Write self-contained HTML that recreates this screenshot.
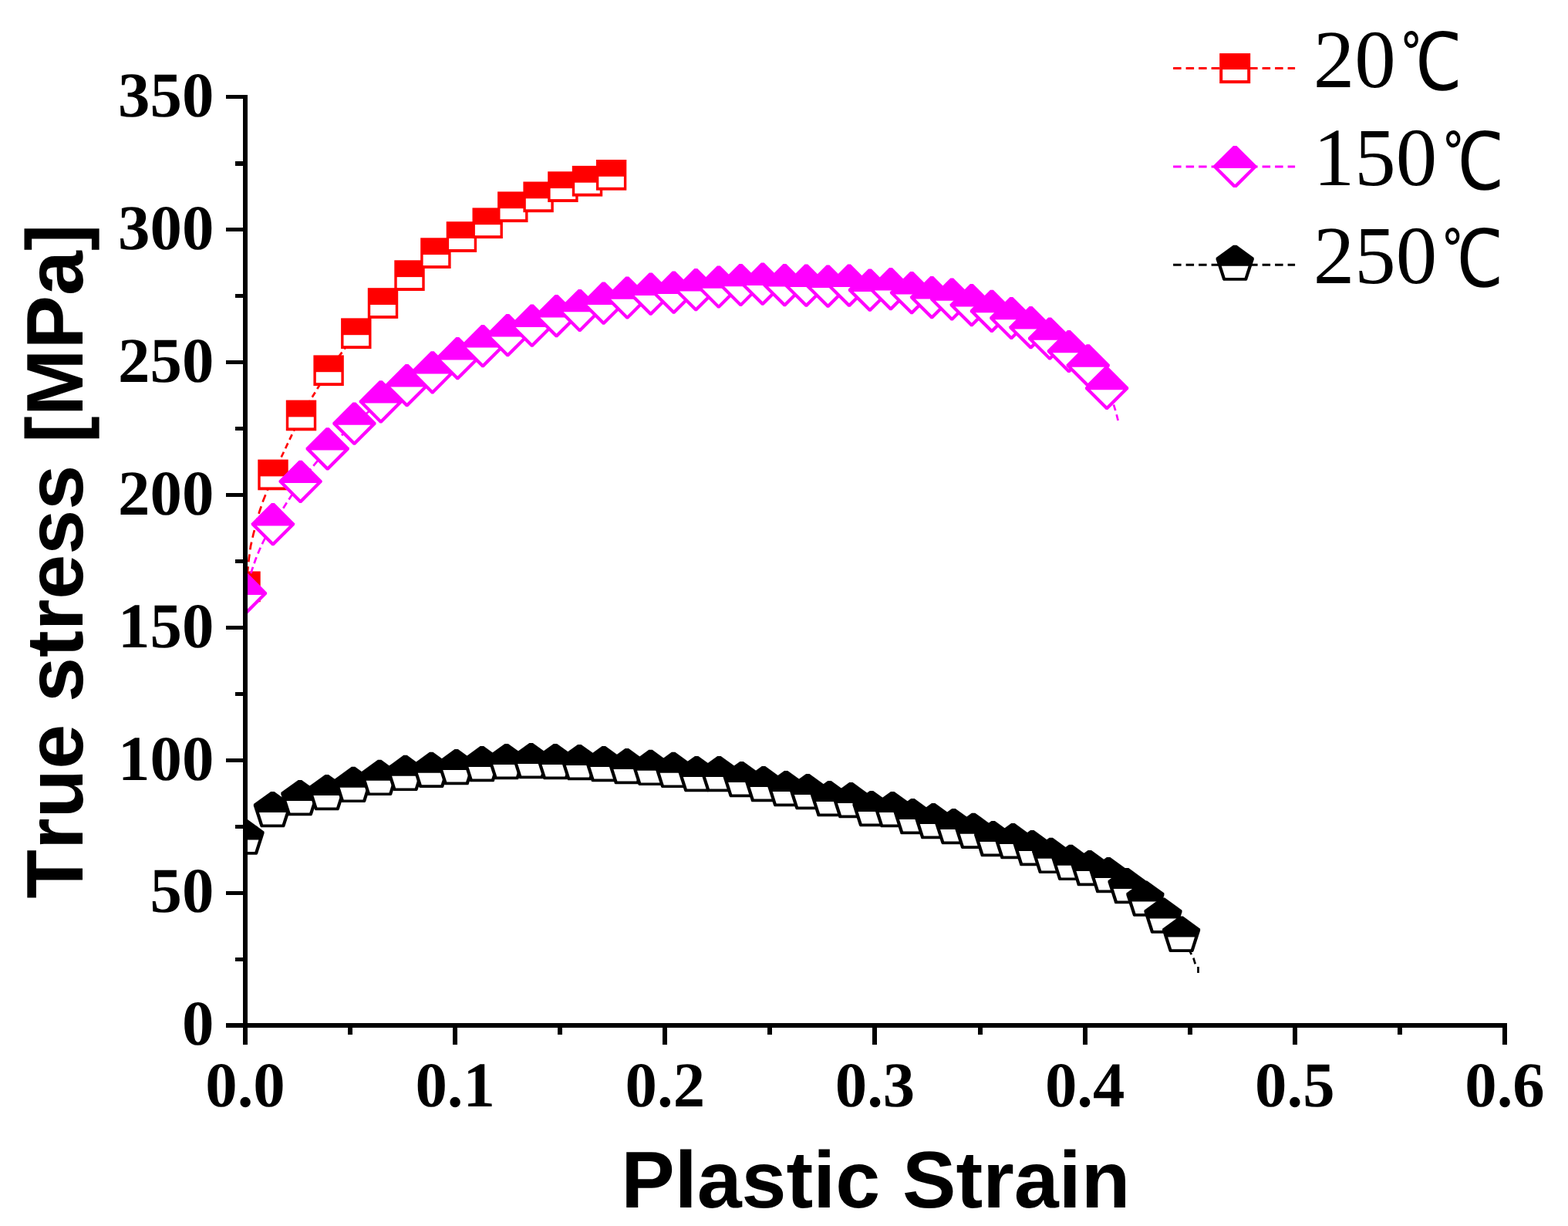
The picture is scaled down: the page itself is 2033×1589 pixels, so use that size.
<!DOCTYPE html>
<html lang="en"><head><meta charset="utf-8"><title>True stress [MPa] vs Plastic Strain</title>
<style>html,body{margin:0;padding:0;background:#fff}svg{display:block}text{font-kerning:none;text-rendering:geometricPrecision}.tk{font-family:"Liberation Serif",serif;font-weight:bold;font-size:82.8px;fill:#000}.ti{font-family:"Liberation Sans",sans-serif;font-weight:bold;font-size:104.2px;fill:#000}.lg{font-family:"Liberation Serif","WenQuanYi Zen Hei",serif;font-size:107px;fill:#000}.dc{font-family:"Liberation Serif","WenQuanYi Zen Hei","Noto Sans CJK SC",serif;font-size:102.7px}</style></head><body>
<svg width="2033" height="1589" viewBox="0 0 2033 1589">
<rect width="2033" height="1589" fill="#fff"/>
<defs><clipPath id="plot"><rect x="318" y="0" width="1715" height="1329"/></clipPath></defs>
<g clip-path="url(#plot)">
<g id="s20">
<path d="M318 760 L321.2 738.8 L322.8 723.7 L325 707.8 L328.6 691.9 L336.1 664 L341.1 649.3 L345.8 637.6 L354 615.1" fill="none" stroke="#ff0000" stroke-width="2.7" stroke-dasharray="10 6"/>
<path d="M354 615.1 L390.5 538.1 L426.1 479.9 L461.8 431.9 L496.5 392.7 L531 356.8 L564.9 327.8 L598.4 306.7 L632.2 288.9 L664.8 267.9 L698.1 255 L729.9 241.8 L761.5 234.4 L792.6 226.5" fill="none" stroke="#ff0000" stroke-width="2.7" stroke-dasharray="7.5 5"/>
<rect x="298.3" y="740.5" width="39.4" height="39.7" fill="#ff0000"/><rect x="301.7" y="762.3" width="32.6" height="14" fill="#fff"/>
<rect x="334.3" y="595.6" width="39.4" height="39.7" fill="#ff0000"/><rect x="337.7" y="617.4" width="32.6" height="14" fill="#fff"/>
<rect x="370.8" y="518.6" width="39.4" height="39.7" fill="#ff0000"/><rect x="374.2" y="540.4" width="32.6" height="14" fill="#fff"/>
<rect x="406.4" y="460.4" width="39.4" height="39.7" fill="#ff0000"/><rect x="409.8" y="482.2" width="32.6" height="14" fill="#fff"/>
<rect x="442.1" y="412.4" width="39.4" height="39.7" fill="#ff0000"/><rect x="445.5" y="434.2" width="32.6" height="14" fill="#fff"/>
<rect x="476.8" y="373.2" width="39.4" height="39.7" fill="#ff0000"/><rect x="480.2" y="395" width="32.6" height="14" fill="#fff"/>
<rect x="511.3" y="337.3" width="39.4" height="39.7" fill="#ff0000"/><rect x="514.7" y="359.1" width="32.6" height="14" fill="#fff"/>
<rect x="545.2" y="308.3" width="39.4" height="39.7" fill="#ff0000"/><rect x="548.6" y="330.1" width="32.6" height="14" fill="#fff"/>
<rect x="578.7" y="287.2" width="39.4" height="39.7" fill="#ff0000"/><rect x="582.1" y="309" width="32.6" height="14" fill="#fff"/>
<rect x="612.5" y="269.4" width="39.4" height="39.7" fill="#ff0000"/><rect x="615.9" y="291.2" width="32.6" height="14" fill="#fff"/>
<rect x="645.1" y="248.4" width="39.4" height="39.7" fill="#ff0000"/><rect x="648.5" y="270.2" width="32.6" height="14" fill="#fff"/>
<rect x="678.4" y="235.5" width="39.4" height="39.7" fill="#ff0000"/><rect x="681.8" y="257.3" width="32.6" height="14" fill="#fff"/>
<rect x="710.2" y="222.3" width="39.4" height="39.7" fill="#ff0000"/><rect x="713.6" y="244.1" width="32.6" height="14" fill="#fff"/>
<rect x="741.8" y="214.9" width="39.4" height="39.7" fill="#ff0000"/><rect x="745.2" y="236.7" width="32.6" height="14" fill="#fff"/>
<rect x="772.9" y="207" width="39.4" height="39.7" fill="#ff0000"/><rect x="776.3" y="228.8" width="32.6" height="14" fill="#fff"/>
</g>
<g id="s150">
<path d="M318 769 L326.9 738 L331.4 725 L336.6 712.3 L341.8 701 L353.9 679.4 L389.6 624 L424.7 581.6 L459.4 548.8 L493.8 520.5 L527.6 499.3 L560.7 482.5 L593.3 464.4 L626 448.3 L658.3 434.3 L689.8 421.8 L721.5 409.3 L751.7 402.2 L782.6 392.8 L813.3 385.7 L843.7 380.9 L873.6 378.8 L902.3 375.3 L931.8 371.7 L960.4 369.2 L988.8 367.8 L1017.4 369.3 L1045.4 369.8 L1073.5 370.8 L1101 369.8 L1127.9 375.8 L1154.9 374.3 L1182.1 379.4 L1208.2 385.3 L1234.2 387.7 L1259.8 395.3 L1285.9 403.1 L1311.3 412.2 L1336.5 424.3 L1361.1 438.7 L1385.9 455.2 L1410.7 473.6 L1435.1 503.1" fill="none" stroke="#ff00ff" stroke-width="2.7" stroke-dasharray="8.5 5"/>
<path d="M1449.6 545 L1447 534.5 L1444.2 525.4 L1435.1 503.1" fill="none" stroke="#ff00ff" stroke-width="2.7" stroke-dasharray="8 5.3"/>
<polygon points="316.1,741.7 319.9,741.7 346.1,767.9 346.1,770.1 319.3,796.9 316.7,796.9 289.9,770.1 289.9,767.9" fill="#ff00ff"/><polygon points="296.9,771 339.1,771 318,792.2" fill="#fff"/>
<polygon points="352,652.1 355.8,652.1 382,678.3 382,680.5 355.2,707.3 352.6,707.3 325.8,680.5 325.8,678.3" fill="#ff00ff"/><polygon points="332.8,681.4 375,681.4 353.9,702.6" fill="#fff"/>
<polygon points="387.7,596.7 391.5,596.7 417.7,622.9 417.7,625.1 390.9,651.9 388.3,651.9 361.5,625.1 361.5,622.9" fill="#ff00ff"/><polygon points="368.5,626 410.8,626 389.6,647.2" fill="#fff"/>
<polygon points="422.8,554.3 426.6,554.3 452.8,580.5 452.8,582.7 426,609.5 423.4,609.5 396.6,582.7 396.6,580.5" fill="#ff00ff"/><polygon points="403.6,583.6 445.8,583.6 424.7,604.8" fill="#fff"/>
<polygon points="457.5,521.5 461.3,521.5 487.5,547.7 487.5,549.9 460.7,576.7 458.1,576.7 431.3,549.9 431.3,547.7" fill="#ff00ff"/><polygon points="438.2,550.8 480.5,550.8 459.4,572" fill="#fff"/>
<polygon points="491.9,493.2 495.7,493.2 521.9,519.4 521.9,521.6 495.1,548.4 492.5,548.4 465.7,521.6 465.7,519.4" fill="#ff00ff"/><polygon points="472.7,522.5 515,522.5 493.8,543.7" fill="#fff"/>
<polygon points="525.7,472 529.5,472 555.7,498.2 555.7,500.4 528.9,527.2 526.3,527.2 499.5,500.4 499.5,498.2" fill="#ff00ff"/><polygon points="506.5,501.4 548.8,501.4 527.6,522.5" fill="#fff"/>
<polygon points="558.8,455.2 562.6,455.2 588.8,481.4 588.8,483.6 562,510.4 559.4,510.4 532.6,483.6 532.6,481.4" fill="#ff00ff"/><polygon points="539.6,484.6 581.9,484.6 560.7,505.7" fill="#fff"/>
<polygon points="591.4,437.1 595.2,437.1 621.4,463.3 621.4,465.5 594.6,492.3 592,492.3 565.2,465.5 565.2,463.3" fill="#ff00ff"/><polygon points="572.1,466.4 614.4,466.4 593.3,487.6" fill="#fff"/>
<polygon points="624.1,421 627.9,421 654.1,447.2 654.1,449.4 627.3,476.2 624.7,476.2 597.9,449.4 597.9,447.2" fill="#ff00ff"/><polygon points="604.9,450.4 647.1,450.4 626,471.5" fill="#fff"/>
<polygon points="656.4,407 660.2,407 686.4,433.2 686.4,435.4 659.6,462.2 657,462.2 630.2,435.4 630.2,433.2" fill="#ff00ff"/><polygon points="637.1,436.4 679.4,436.4 658.3,457.5" fill="#fff"/>
<polygon points="687.9,394.5 691.7,394.5 717.9,420.7 717.9,422.9 691.1,449.7 688.5,449.7 661.7,422.9 661.7,420.7" fill="#ff00ff"/><polygon points="668.6,423.9 710.9,423.9 689.8,445" fill="#fff"/>
<polygon points="719.6,382 723.4,382 749.6,408.2 749.6,410.4 722.8,437.2 720.2,437.2 693.4,410.4 693.4,408.2" fill="#ff00ff"/><polygon points="700.4,411.4 742.6,411.4 721.5,432.5" fill="#fff"/>
<polygon points="749.8,374.9 753.6,374.9 779.8,401.1 779.8,403.3 753,430.1 750.4,430.1 723.6,403.3 723.6,401.1" fill="#ff00ff"/><polygon points="730.6,404.2 772.9,404.2 751.7,425.4" fill="#fff"/>
<polygon points="780.7,365.5 784.5,365.5 810.7,391.7 810.7,393.9 783.9,420.7 781.3,420.7 754.5,393.9 754.5,391.7" fill="#ff00ff"/><polygon points="761.5,394.9 803.8,394.9 782.6,416" fill="#fff"/>
<polygon points="811.4,358.4 815.2,358.4 841.4,384.6 841.4,386.8 814.6,413.6 812,413.6 785.2,386.8 785.2,384.6" fill="#ff00ff"/><polygon points="792.1,387.8 834.4,387.8 813.3,408.9" fill="#fff"/>
<polygon points="841.8,353.6 845.6,353.6 871.8,379.8 871.8,382 845,408.8 842.4,408.8 815.6,382 815.6,379.8" fill="#ff00ff"/><polygon points="822.6,382.9 864.9,382.9 843.7,404.1" fill="#fff"/>
<polygon points="871.7,351.5 875.5,351.5 901.7,377.7 901.7,379.9 874.9,406.7 872.3,406.7 845.5,379.9 845.5,377.7" fill="#ff00ff"/><polygon points="852.5,380.9 894.8,380.9 873.6,402" fill="#fff"/>
<polygon points="900.4,348 904.2,348 930.4,374.2 930.4,376.4 903.6,403.2 901,403.2 874.2,376.4 874.2,374.2" fill="#ff00ff"/><polygon points="881.1,377.4 923.4,377.4 902.3,398.5" fill="#fff"/>
<polygon points="929.9,344.4 933.7,344.4 959.9,370.6 959.9,372.8 933.1,399.6 930.5,399.6 903.7,372.8 903.7,370.6" fill="#ff00ff"/><polygon points="910.6,373.8 952.9,373.8 931.8,394.9" fill="#fff"/>
<polygon points="958.5,341.9 962.3,341.9 988.5,368.1 988.5,370.3 961.7,397.1 959.1,397.1 932.3,370.3 932.3,368.1" fill="#ff00ff"/><polygon points="939.2,371.2 981.5,371.2 960.4,392.4" fill="#fff"/>
<polygon points="986.9,340.5 990.7,340.5 1016.9,366.7 1016.9,368.9 990.1,395.7 987.5,395.7 960.7,368.9 960.7,366.7" fill="#ff00ff"/><polygon points="967.6,369.9 1009.9,369.9 988.8,391" fill="#fff"/>
<polygon points="1015.5,342 1019.3,342 1045.5,368.2 1045.5,370.4 1018.7,397.2 1016.1,397.2 989.3,370.4 989.3,368.2" fill="#ff00ff"/><polygon points="996.2,371.4 1038.5,371.4 1017.4,392.5" fill="#fff"/>
<polygon points="1043.5,342.5 1047.3,342.5 1073.5,368.7 1073.5,370.9 1046.7,397.7 1044.1,397.7 1017.3,370.9 1017.3,368.7" fill="#ff00ff"/><polygon points="1024.2,371.9 1066.6,371.9 1045.4,393" fill="#fff"/>
<polygon points="1071.6,343.5 1075.4,343.5 1101.6,369.7 1101.6,371.9 1074.8,398.7 1072.2,398.7 1045.4,371.9 1045.4,369.7" fill="#ff00ff"/><polygon points="1052.3,372.9 1094.7,372.9 1073.5,394" fill="#fff"/>
<polygon points="1099.1,342.5 1102.9,342.5 1129.1,368.7 1129.1,370.9 1102.3,397.7 1099.7,397.7 1072.9,370.9 1072.9,368.7" fill="#ff00ff"/><polygon points="1079.8,371.9 1122.2,371.9 1101,393" fill="#fff"/>
<polygon points="1126,348.5 1129.8,348.5 1156,374.7 1156,376.9 1129.2,403.7 1126.6,403.7 1099.8,376.9 1099.8,374.7" fill="#ff00ff"/><polygon points="1106.8,377.9 1149.1,377.9 1127.9,399" fill="#fff"/>
<polygon points="1153,347 1156.8,347 1183,373.2 1183,375.4 1156.2,402.2 1153.6,402.2 1126.8,375.4 1126.8,373.2" fill="#ff00ff"/><polygon points="1133.8,376.4 1176.1,376.4 1154.9,397.5" fill="#fff"/>
<polygon points="1180.2,352.1 1184,352.1 1210.2,378.3 1210.2,380.5 1183.4,407.3 1180.8,407.3 1154,380.5 1154,378.3" fill="#ff00ff"/><polygon points="1160.9,381.4 1203.2,381.4 1182.1,402.6" fill="#fff"/>
<polygon points="1206.3,358 1210.1,358 1236.3,384.2 1236.3,386.4 1209.5,413.2 1206.9,413.2 1180.1,386.4 1180.1,384.2" fill="#ff00ff"/><polygon points="1187,387.4 1229.4,387.4 1208.2,408.5" fill="#fff"/>
<polygon points="1232.3,360.4 1236.1,360.4 1262.3,386.6 1262.3,388.8 1235.5,415.6 1232.9,415.6 1206.1,388.8 1206.1,386.6" fill="#ff00ff"/><polygon points="1213,389.8 1255.4,389.8 1234.2,410.9" fill="#fff"/>
<polygon points="1257.9,368 1261.7,368 1287.9,394.2 1287.9,396.4 1261.1,423.2 1258.5,423.2 1231.7,396.4 1231.7,394.2" fill="#ff00ff"/><polygon points="1238.6,397.4 1281,397.4 1259.8,418.5" fill="#fff"/>
<polygon points="1284,375.8 1287.8,375.8 1314,402 1314,404.2 1287.2,431 1284.6,431 1257.8,404.2 1257.8,402" fill="#ff00ff"/><polygon points="1264.8,405.2 1307.1,405.2 1285.9,426.3" fill="#fff"/>
<polygon points="1309.4,384.9 1313.2,384.9 1339.4,411.1 1339.4,413.3 1312.6,440.1 1310,440.1 1283.2,413.3 1283.2,411.1" fill="#ff00ff"/><polygon points="1290.1,414.2 1332.5,414.2 1311.3,435.4" fill="#fff"/>
<polygon points="1334.6,397 1338.4,397 1364.6,423.2 1364.6,425.4 1337.8,452.2 1335.2,452.2 1308.4,425.4 1308.4,423.2" fill="#ff00ff"/><polygon points="1315.3,426.4 1357.7,426.4 1336.5,447.5" fill="#fff"/>
<polygon points="1359.2,411.4 1363,411.4 1389.2,437.6 1389.2,439.8 1362.4,466.6 1359.8,466.6 1333,439.8 1333,437.6" fill="#ff00ff"/><polygon points="1339.9,440.8 1382.2,440.8 1361.1,461.9" fill="#fff"/>
<polygon points="1384,427.9 1387.8,427.9 1414,454.1 1414,456.3 1387.2,483.1 1384.6,483.1 1357.8,456.3 1357.8,454.1" fill="#ff00ff"/><polygon points="1364.8,457.2 1407.1,457.2 1385.9,478.4" fill="#fff"/>
<polygon points="1408.8,446.3 1412.6,446.3 1438.8,472.5 1438.8,474.7 1412,501.5 1409.4,501.5 1382.6,474.7 1382.6,472.5" fill="#ff00ff"/><polygon points="1389.5,475.7 1431.9,475.7 1410.7,496.8" fill="#fff"/>
<polygon points="1433.2,475.8 1437,475.8 1463.2,502 1463.2,504.2 1436.4,531 1433.8,531 1407,504.2 1407,502" fill="#ff00ff"/><polygon points="1413.9,505.2 1456.2,505.2 1435.1,526.3" fill="#fff"/>
</g>
<g id="s250">
<path d="M318 1087 L353.4 1051.4 L388.9 1036.4 L423.8 1029.4 L458.1 1019.3 L492.1 1010.3 L525.5 1004.3 L559.2 1000.2 L591.7 996.5 L624.9 992.5 L656.7 989.4 L688.6 988.4 L720 989.4 L751.3 990.4 L782.8 992.5 L812.8 995.5 L843.5 997.3 L873.1 1000.3 L903.2 1005.4 L932.4 1005.4 L961.6 1012.4 L990 1018.5 L1019.1 1024.4 L1047.3 1028.4 L1075.5 1037.5 L1103.4 1039.5 L1130 1050.4 L1157.2 1051.4 L1183.4 1060.5 L1210.2 1066.5 L1236.5 1073.4 L1262.1 1079.2 L1287.7 1089.5 L1313.4 1092.5 L1338.3 1101.5 L1362.7 1111.3 L1388.2 1120.3 L1412.8 1127.5 L1437.2 1136.5 L1461.1 1150.5 L1484.9 1166.9 L1508 1189 L1531.6 1213.1" fill="none" stroke="#000000" stroke-width="2.7" stroke-dasharray="8.5 5"/>
<path d="M1553.5 1261 L1553.5 1253 L1549.8 1249.6 L1547.6 1242.4 L1543.2 1233.9 L1531.6 1213.1" fill="none" stroke="#000000" stroke-width="2.7" stroke-dasharray="8 5.3"/>
<polygon points="315.8,1061.5 320.2,1061.5 342.5,1077.7 342.6,1080 334,1106.7 333,1107.8 303,1107.8 302,1106.7 293.4,1080 293.5,1077.7" fill="#000000"/><polygon points="300.6,1088.5 335.4,1088.5 330.4,1104.1 305.6,1104.1" fill="#fff"/>
<polygon points="351.2,1025.9 355.6,1025.9 377.9,1042.1 378,1044.4 369.4,1071.1 368.4,1072.2 338.4,1072.2 337.4,1071.1 328.8,1044.4 328.9,1042.1" fill="#000000"/><polygon points="336,1052.9 370.8,1052.9 365.8,1068.5 341,1068.5" fill="#fff"/>
<polygon points="386.7,1010.9 391.1,1010.9 413.4,1027.1 413.5,1029.4 404.9,1056.1 403.9,1057.2 373.9,1057.2 372.9,1056.1 364.3,1029.4 364.4,1027.1" fill="#000000"/><polygon points="371.5,1037.9 406.3,1037.9 401.3,1053.5 376.5,1053.5" fill="#fff"/>
<polygon points="421.6,1003.9 426,1003.9 448.3,1020.1 448.4,1022.4 439.8,1049.1 438.8,1050.2 408.8,1050.2 407.8,1049.1 399.2,1022.4 399.3,1020.1" fill="#000000"/><polygon points="406.4,1030.9 441.2,1030.9 436.2,1046.5 411.4,1046.5" fill="#fff"/>
<polygon points="455.9,993.8 460.3,993.8 482.6,1010 482.7,1012.3 474.1,1039 473.1,1040.1 443.1,1040.1 442.1,1039 433.5,1012.3 433.6,1010" fill="#000000"/><polygon points="440.7,1020.8 475.5,1020.8 470.5,1036.4 445.7,1036.4" fill="#fff"/>
<polygon points="489.9,984.8 494.3,984.8 516.6,1001 516.7,1003.3 508.1,1030 507.1,1031.1 477.1,1031.1 476.1,1030 467.5,1003.3 467.6,1001" fill="#000000"/><polygon points="474.7,1011.8 509.5,1011.8 504.5,1027.4 479.7,1027.4" fill="#fff"/>
<polygon points="523.3,978.8 527.7,978.8 550,995 550.1,997.3 541.5,1024 540.5,1025.1 510.5,1025.1 509.5,1024 500.9,997.3 501,995" fill="#000000"/><polygon points="508.1,1005.8 542.9,1005.8 537.9,1021.4 513.1,1021.4" fill="#fff"/>
<polygon points="557,974.7 561.4,974.7 583.7,990.9 583.8,993.2 575.2,1019.9 574.2,1021 544.2,1021 543.2,1019.9 534.6,993.2 534.7,990.9" fill="#000000"/><polygon points="541.8,1001.7 576.6,1001.7 571.6,1017.3 546.8,1017.3" fill="#fff"/>
<polygon points="589.5,971 593.9,971 616.2,987.2 616.3,989.5 607.7,1016.2 606.7,1017.3 576.7,1017.3 575.7,1016.2 567.1,989.5 567.2,987.2" fill="#000000"/><polygon points="574.3,998 609.1,998 604.1,1013.6 579.3,1013.6" fill="#fff"/>
<polygon points="622.7,967 627.1,967 649.4,983.2 649.5,985.5 640.9,1012.2 639.9,1013.3 609.9,1013.3 608.9,1012.2 600.3,985.5 600.4,983.2" fill="#000000"/><polygon points="607.5,994 642.3,994 637.3,1009.6 612.5,1009.6" fill="#fff"/>
<polygon points="654.5,963.9 658.9,963.9 681.2,980.1 681.3,982.4 672.7,1009.1 671.7,1010.2 641.7,1010.2 640.7,1009.1 632.1,982.4 632.2,980.1" fill="#000000"/><polygon points="639.3,990.9 674.1,990.9 669.1,1006.5 644.3,1006.5" fill="#fff"/>
<polygon points="686.4,962.9 690.8,962.9 713.1,979.1 713.2,981.4 704.6,1008.1 703.6,1009.2 673.6,1009.2 672.6,1008.1 664,981.4 664.1,979.1" fill="#000000"/><polygon points="671.2,989.9 706,989.9 701,1005.5 676.2,1005.5" fill="#fff"/>
<polygon points="717.8,963.9 722.2,963.9 744.5,980.1 744.6,982.4 736,1009.1 735,1010.2 705,1010.2 704,1009.1 695.4,982.4 695.5,980.1" fill="#000000"/><polygon points="702.6,990.9 737.4,990.9 732.4,1006.5 707.6,1006.5" fill="#fff"/>
<polygon points="749.1,964.9 753.5,964.9 775.8,981.1 775.9,983.4 767.3,1010.1 766.3,1011.2 736.3,1011.2 735.3,1010.1 726.7,983.4 726.8,981.1" fill="#000000"/><polygon points="733.9,991.9 768.7,991.9 763.7,1007.5 738.9,1007.5" fill="#fff"/>
<polygon points="780.6,967 785,967 807.3,983.2 807.4,985.5 798.8,1012.2 797.8,1013.3 767.8,1013.3 766.8,1012.2 758.2,985.5 758.3,983.2" fill="#000000"/><polygon points="765.4,994 800.2,994 795.2,1009.6 770.4,1009.6" fill="#fff"/>
<polygon points="810.6,970 815,970 837.3,986.2 837.4,988.5 828.8,1015.2 827.8,1016.3 797.8,1016.3 796.8,1015.2 788.2,988.5 788.3,986.2" fill="#000000"/><polygon points="795.4,997 830.2,997 825.2,1012.6 800.4,1012.6" fill="#fff"/>
<polygon points="841.3,971.8 845.7,971.8 868,988 868.1,990.3 859.5,1017 858.5,1018.1 828.5,1018.1 827.5,1017 818.9,990.3 819,988" fill="#000000"/><polygon points="826.1,998.8 860.9,998.8 855.9,1014.4 831.1,1014.4" fill="#fff"/>
<polygon points="870.9,974.8 875.3,974.8 897.6,991 897.7,993.3 889.1,1020 888.1,1021.1 858.1,1021.1 857.1,1020 848.5,993.3 848.6,991" fill="#000000"/><polygon points="855.7,1001.8 890.5,1001.8 885.5,1017.4 860.7,1017.4" fill="#fff"/>
<polygon points="901,979.9 905.4,979.9 927.7,996.1 927.8,998.4 919.2,1025.1 918.2,1026.2 888.2,1026.2 887.2,1025.1 878.6,998.4 878.7,996.1" fill="#000000"/><polygon points="885.8,1006.9 920.6,1006.9 915.6,1022.5 890.8,1022.5" fill="#fff"/>
<polygon points="930.2,979.9 934.6,979.9 956.9,996.1 957,998.4 948.4,1025.1 947.4,1026.2 917.4,1026.2 916.4,1025.1 907.8,998.4 907.9,996.1" fill="#000000"/><polygon points="915,1006.9 949.8,1006.9 944.8,1022.5 920,1022.5" fill="#fff"/>
<polygon points="959.4,986.9 963.8,986.9 986.1,1003.1 986.2,1005.4 977.6,1032.1 976.6,1033.2 946.6,1033.2 945.6,1032.1 937,1005.4 937.1,1003.1" fill="#000000"/><polygon points="944.2,1013.9 979,1013.9 974,1029.5 949.2,1029.5" fill="#fff"/>
<polygon points="987.8,993 992.2,993 1014.5,1009.2 1014.6,1011.5 1006,1038.2 1005,1039.3 975,1039.3 974,1038.2 965.4,1011.5 965.5,1009.2" fill="#000000"/><polygon points="972.6,1020 1007.4,1020 1002.4,1035.6 977.6,1035.6" fill="#fff"/>
<polygon points="1016.9,998.9 1021.3,998.9 1043.6,1015.1 1043.7,1017.4 1035.1,1044.1 1034.1,1045.2 1004.1,1045.2 1003.1,1044.1 994.5,1017.4 994.6,1015.1" fill="#000000"/><polygon points="1001.7,1025.9 1036.5,1025.9 1031.5,1041.5 1006.7,1041.5" fill="#fff"/>
<polygon points="1045.1,1002.9 1049.5,1002.9 1071.8,1019.1 1071.9,1021.4 1063.3,1048.1 1062.3,1049.2 1032.3,1049.2 1031.3,1048.1 1022.7,1021.4 1022.8,1019.1" fill="#000000"/><polygon points="1029.9,1029.9 1064.7,1029.9 1059.7,1045.5 1034.9,1045.5" fill="#fff"/>
<polygon points="1073.3,1012 1077.7,1012 1100,1028.2 1100.1,1030.5 1091.5,1057.2 1090.5,1058.3 1060.5,1058.3 1059.5,1057.2 1050.9,1030.5 1051,1028.2" fill="#000000"/><polygon points="1058.1,1039 1092.9,1039 1087.9,1054.6 1063.1,1054.6" fill="#fff"/>
<polygon points="1101.2,1014 1105.6,1014 1127.9,1030.2 1128,1032.5 1119.4,1059.2 1118.4,1060.3 1088.4,1060.3 1087.4,1059.2 1078.8,1032.5 1078.9,1030.2" fill="#000000"/><polygon points="1086,1041 1120.8,1041 1115.8,1056.6 1091,1056.6" fill="#fff"/>
<polygon points="1127.8,1024.9 1132.2,1024.9 1154.5,1041.1 1154.6,1043.4 1146,1070.1 1145,1071.2 1115,1071.2 1114,1070.1 1105.4,1043.4 1105.5,1041.1" fill="#000000"/><polygon points="1112.6,1051.9 1147.4,1051.9 1142.4,1067.5 1117.6,1067.5" fill="#fff"/>
<polygon points="1155,1025.9 1159.4,1025.9 1181.7,1042.1 1181.8,1044.4 1173.2,1071.1 1172.2,1072.2 1142.2,1072.2 1141.2,1071.1 1132.6,1044.4 1132.7,1042.1" fill="#000000"/><polygon points="1139.8,1052.9 1174.6,1052.9 1169.6,1068.5 1144.8,1068.5" fill="#fff"/>
<polygon points="1181.2,1035 1185.6,1035 1207.9,1051.2 1208,1053.5 1199.4,1080.2 1198.4,1081.3 1168.4,1081.3 1167.4,1080.2 1158.8,1053.5 1158.9,1051.2" fill="#000000"/><polygon points="1166,1062 1200.8,1062 1195.8,1077.6 1171,1077.6" fill="#fff"/>
<polygon points="1208,1041 1212.4,1041 1234.7,1057.2 1234.8,1059.5 1226.2,1086.2 1225.2,1087.3 1195.2,1087.3 1194.2,1086.2 1185.6,1059.5 1185.7,1057.2" fill="#000000"/><polygon points="1192.8,1068 1227.6,1068 1222.6,1083.6 1197.8,1083.6" fill="#fff"/>
<polygon points="1234.3,1047.9 1238.7,1047.9 1261,1064.1 1261.1,1066.4 1252.5,1093.1 1251.5,1094.2 1221.5,1094.2 1220.5,1093.1 1211.9,1066.4 1212,1064.1" fill="#000000"/><polygon points="1219.1,1074.9 1253.9,1074.9 1248.9,1090.5 1224.1,1090.5" fill="#fff"/>
<polygon points="1259.9,1053.7 1264.3,1053.7 1286.6,1069.9 1286.7,1072.2 1278.1,1098.9 1277.1,1100 1247.1,1100 1246.1,1098.9 1237.5,1072.2 1237.6,1069.9" fill="#000000"/><polygon points="1244.7,1080.7 1279.5,1080.7 1274.5,1096.3 1249.7,1096.3" fill="#fff"/>
<polygon points="1285.5,1064 1289.9,1064 1312.2,1080.2 1312.3,1082.5 1303.7,1109.2 1302.7,1110.3 1272.7,1110.3 1271.7,1109.2 1263.1,1082.5 1263.2,1080.2" fill="#000000"/><polygon points="1270.3,1091 1305.1,1091 1300.1,1106.6 1275.3,1106.6" fill="#fff"/>
<polygon points="1311.2,1067 1315.6,1067 1337.9,1083.2 1338,1085.5 1329.4,1112.2 1328.4,1113.3 1298.4,1113.3 1297.4,1112.2 1288.8,1085.5 1288.9,1083.2" fill="#000000"/><polygon points="1296,1094 1330.8,1094 1325.8,1109.6 1301,1109.6" fill="#fff"/>
<polygon points="1336.1,1076 1340.5,1076 1362.8,1092.2 1362.9,1094.5 1354.3,1121.2 1353.3,1122.3 1323.3,1122.3 1322.3,1121.2 1313.7,1094.5 1313.8,1092.2" fill="#000000"/><polygon points="1320.9,1103 1355.7,1103 1350.7,1118.6 1325.9,1118.6" fill="#fff"/>
<polygon points="1360.5,1085.8 1364.9,1085.8 1387.2,1102 1387.3,1104.3 1378.7,1131 1377.7,1132.1 1347.7,1132.1 1346.7,1131 1338.1,1104.3 1338.2,1102" fill="#000000"/><polygon points="1345.3,1112.8 1380.1,1112.8 1375.1,1128.4 1350.3,1128.4" fill="#fff"/>
<polygon points="1386,1094.8 1390.4,1094.8 1412.7,1111 1412.8,1113.3 1404.2,1140 1403.2,1141.1 1373.2,1141.1 1372.2,1140 1363.6,1113.3 1363.7,1111" fill="#000000"/><polygon points="1370.8,1121.8 1405.6,1121.8 1400.6,1137.4 1375.8,1137.4" fill="#fff"/>
<polygon points="1410.6,1102 1415,1102 1437.3,1118.2 1437.4,1120.5 1428.8,1147.2 1427.8,1148.3 1397.8,1148.3 1396.8,1147.2 1388.2,1120.5 1388.3,1118.2" fill="#000000"/><polygon points="1395.4,1129 1430.2,1129 1425.2,1144.6 1400.4,1144.6" fill="#fff"/>
<polygon points="1435,1111 1439.4,1111 1461.7,1127.2 1461.8,1129.5 1453.2,1156.2 1452.2,1157.3 1422.2,1157.3 1421.2,1156.2 1412.6,1129.5 1412.7,1127.2" fill="#000000"/><polygon points="1419.8,1138 1454.6,1138 1449.6,1153.6 1424.8,1153.6" fill="#fff"/>
<polygon points="1458.9,1125 1463.3,1125 1485.6,1141.2 1485.7,1143.5 1477.1,1170.2 1476.1,1171.3 1446.1,1171.3 1445.1,1170.2 1436.5,1143.5 1436.6,1141.2" fill="#000000"/><polygon points="1443.7,1152 1478.5,1152 1473.5,1167.6 1448.7,1167.6" fill="#fff"/>
<polygon points="1482.7,1141.4 1487.1,1141.4 1509.4,1157.6 1509.5,1159.9 1500.9,1186.6 1499.9,1187.7 1469.9,1187.7 1468.9,1186.6 1460.3,1159.9 1460.4,1157.6" fill="#000000"/><polygon points="1467.5,1168.4 1502.3,1168.4 1497.3,1184 1472.5,1184" fill="#fff"/>
<polygon points="1505.8,1163.5 1510.2,1163.5 1532.5,1179.7 1532.6,1182 1524,1208.7 1523,1209.8 1493,1209.8 1492,1208.7 1483.4,1182 1483.5,1179.7" fill="#000000"/><polygon points="1490.6,1190.5 1525.4,1190.5 1520.4,1206.1 1495.6,1206.1" fill="#fff"/>
<polygon points="1529.4,1187.6 1533.8,1187.6 1556.1,1203.8 1556.2,1206.1 1547.6,1232.8 1546.6,1233.9 1516.6,1233.9 1515.6,1232.8 1507,1206.1 1507.1,1203.8" fill="#000000"/><polygon points="1514.2,1214.6 1549,1214.6 1544,1230.2 1519.2,1230.2" fill="#fff"/>
</g>
</g>
<g id="axes" fill="#000" shape-rendering="crispEdges">
<rect x="315" y="123" width="6" height="1231"/>
<rect x="293" y="1326" width="1661" height="6"/>
<rect x="305" y="1241" width="10" height="5"/>
<rect x="293" y="1155" width="22" height="5"/>
<rect x="305" y="1069" width="10" height="5"/>
<rect x="293" y="983" width="22" height="5"/>
<rect x="305" y="897" width="10" height="5"/>
<rect x="293" y="811" width="22" height="5"/>
<rect x="305" y="725" width="10" height="5"/>
<rect x="293" y="639" width="22" height="5"/>
<rect x="305" y="553" width="10" height="5"/>
<rect x="293" y="467" width="22" height="5"/>
<rect x="305" y="381" width="10" height="5"/>
<rect x="293" y="295" width="22" height="5"/>
<rect x="305" y="209" width="10" height="6"/>
<rect x="293" y="123" width="22" height="5"/>
<rect x="451" y="1332" width="6" height="9"/>
<rect x="587" y="1332" width="6" height="22"/>
<rect x="723" y="1332" width="6" height="9"/>
<rect x="859" y="1332" width="6" height="22"/>
<rect x="995" y="1332" width="6" height="9"/>
<rect x="1131" y="1332" width="6" height="22"/>
<rect x="1268" y="1332" width="6" height="9"/>
<rect x="1404" y="1332" width="6" height="22"/>
<rect x="1540" y="1332" width="6" height="9"/>
<rect x="1676" y="1332" width="6" height="22"/>
<rect x="1812" y="1332" width="6" height="9"/>
<rect x="1948" y="1332" width="6" height="22"/>
</g>
<g class="tk">
<text x="277.3" y="1354.2" text-anchor="end">0</text>
<text x="277.3" y="1182.3" text-anchor="end">50</text>
<text x="277.3" y="1010.5" text-anchor="end">100</text>
<text x="277.3" y="838.6" text-anchor="end">150</text>
<text x="277.3" y="666.8" text-anchor="end">200</text>
<text x="277.3" y="494.9" text-anchor="end">250</text>
<text x="277.3" y="323.1" text-anchor="end">300</text>
<text x="277.3" y="151.2" text-anchor="end">350</text>
<text x="318" y="1434" text-anchor="middle">0.0</text>
<text x="590.2" y="1434" text-anchor="middle">0.1</text>
<text x="862.3" y="1434" text-anchor="middle">0.2</text>
<text x="1134.5" y="1434" text-anchor="middle">0.3</text>
<text x="1406.7" y="1434" text-anchor="middle">0.4</text>
<text x="1678.8" y="1434" text-anchor="middle">0.5</text>
<text x="1951" y="1434" text-anchor="middle">0.6</text>
</g>
<text class="ti" x="1135.3" y="1564.7" text-anchor="middle">Plastic Strain</text>
<text class="ti" transform="translate(107 727.5) rotate(-90)" text-anchor="middle">True stress [MPa]</text>
<g id="legend">
<line x1="1521.1" y1="88.6" x2="1679.1" y2="88.6" stroke="#ff0000" stroke-width="3.0" stroke-dasharray="10.5 6"/>
<rect x="1581.2" y="69.1" width="40" height="39" fill="#ff0000"/><rect x="1585.2" y="90.1" width="32" height="14" fill="#fff"/>
<text class="lg" x="1702.7" y="112.8">20<tspan class="dc" x="1816.6" y="115.9" textLength="77.9" lengthAdjust="spacingAndGlyphs">℃</tspan></text>
<line x1="1521.1" y1="215.9" x2="1679.1" y2="215.9" stroke="#ff00ff" stroke-width="3.0" stroke-dasharray="10.5 6"/>
<polygon points="1599,188.9 1603.4,188.9 1629.3,214.8 1629.3,217 1603.4,242.9 1599,242.9 1573.1,217 1573.1,214.8" fill="#ff00ff"/><polygon points="1580,218 1622.4,218 1601.2,239.1" fill="#fff"/>
<text class="lg" x="1702.7" y="239.8">150<tspan class="dc" x="1871.1" y="244.9" textLength="77.9" lengthAdjust="spacingAndGlyphs">℃</tspan></text>
<line x1="1521.1" y1="343.3" x2="1679.1" y2="343.3" stroke="#000000" stroke-width="3.0" stroke-dasharray="10.5 6"/>
<polygon points="1599,317.8 1603.4,317.8 1625.7,334 1625.8,336.3 1617.2,362.6 1616.2,363.7 1586.2,363.7 1585.2,362.6 1576.6,336.3 1576.7,334" fill="#000000"/><polygon points="1583.8,344.8 1618.6,344.8 1613.7,360 1588.7,360" fill="#fff"/>
<text class="lg" x="1702.7" y="366.8">250<tspan class="dc" x="1870.1" y="371.1" textLength="77.9" lengthAdjust="spacingAndGlyphs">℃</tspan></text>
</g>
</svg></body></html>
